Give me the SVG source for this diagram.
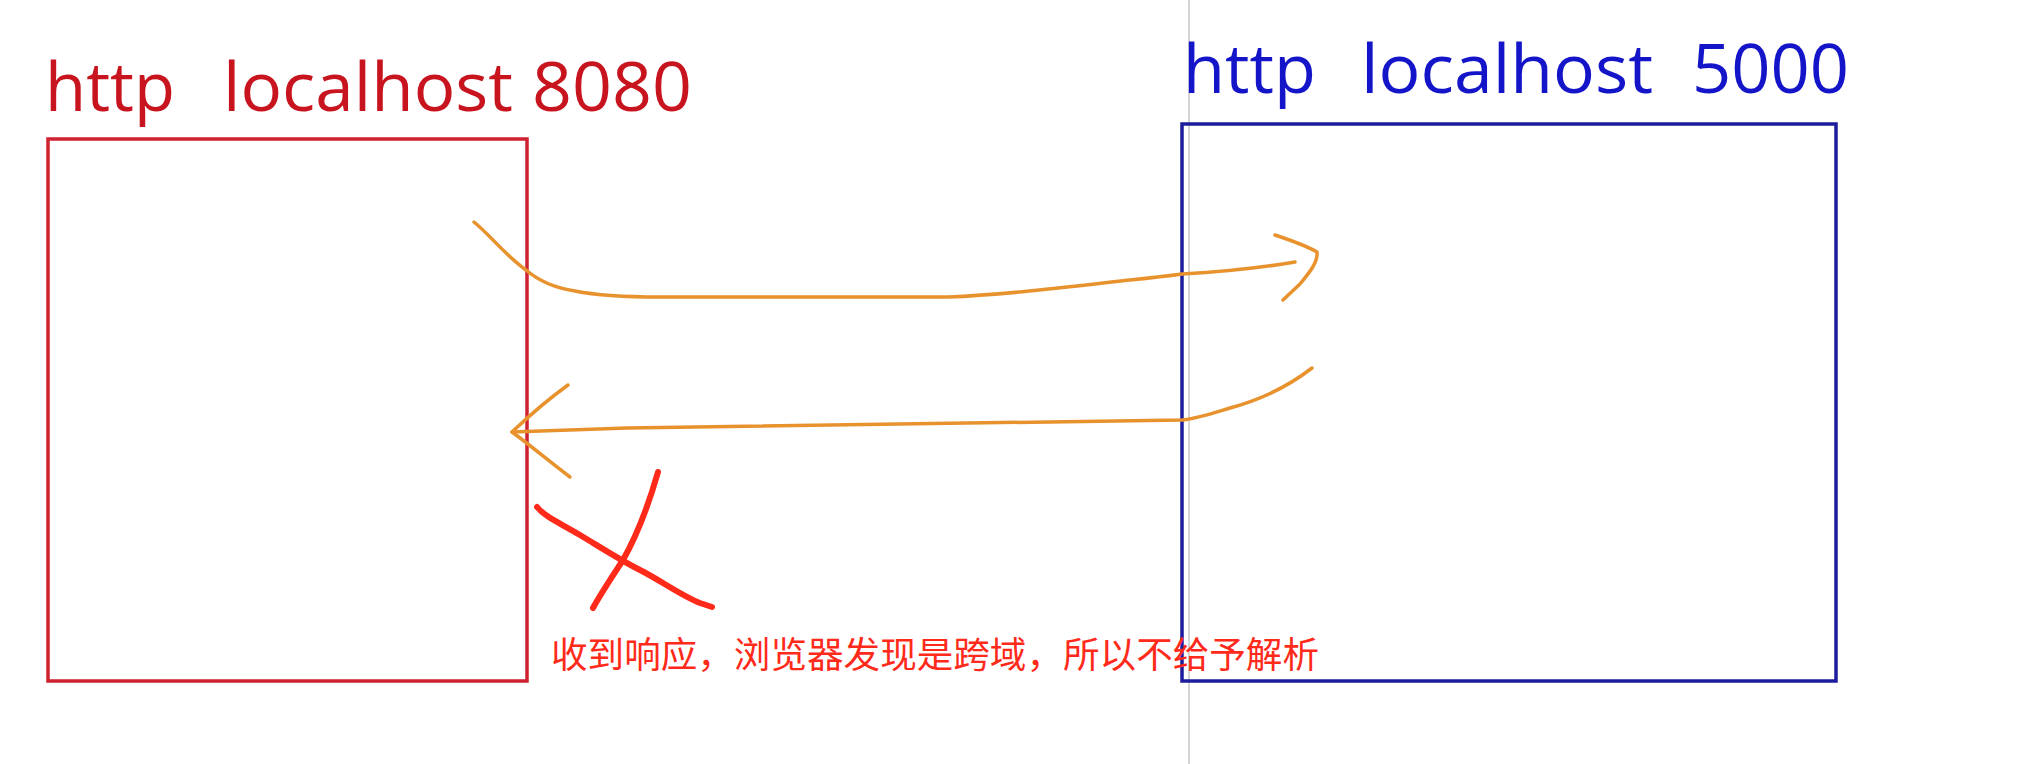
<svg xmlns="http://www.w3.org/2000/svg" width="2036" height="764" viewBox="0 0 2036 764">
<style>
.title{font-family:"Open Sans","Liberation Sans",Arial,sans-serif;font-size:68px}
.box{fill:none;stroke-width:3.5}
.arrow{fill:none;stroke:#e8922e;stroke-width:3.5;stroke-linecap:round;stroke-linejoin:round}
.mark{fill:none;stroke:#ff2a1a;stroke-width:6;stroke-linecap:round;stroke-linejoin:round}
.note{font-family:"Noto Sans CJK SC","Noto Sans",sans-serif;font-size:36.5px;fill:#ff2a1a}
</style>
<rect x="0" y="0" width="2036" height="764" fill="#ffffff"/>
<line x1="1189" y1="0" x2="1189" y2="764" stroke="#d4d4d4" stroke-width="2"/>
<g id="node-8080">
<rect class="box" x="48" y="139" width="479" height="542" stroke="#cf2230"/>
<text class="title" y="111" fill="#c8141e"><tspan x="45" textLength="130" lengthAdjust="spacingAndGlyphs">http</tspan> <tspan x="223" textLength="290" lengthAdjust="spacingAndGlyphs">localhost</tspan> <tspan x="532" textLength="160" lengthAdjust="spacingAndGlyphs">8080</tspan></text>
</g>
<g id="node-5000">
<rect class="box" x="1182" y="124" width="654" height="557" stroke="#1c1c9c"/>
<text class="title" y="93" fill="#1414c8"><tspan x="1183" textLength="133" lengthAdjust="spacingAndGlyphs">http</tspan> <tspan x="1361" textLength="292" lengthAdjust="spacingAndGlyphs">localhost</tspan> <tspan x="1692" textLength="157" lengthAdjust="spacingAndGlyphs">5000</tspan></text>
</g>
<g id="connectors">
<path class="arrow" d="M474,222 C490,235 505,255 526,270 C540,282 555,288 575,291 C600,296 630,297 660,297 L948,297 C1000,295 1060,288 1130,280 C1160,277 1175,275 1182,274 C1220,272 1260,268 1295,262"/>
<path class="arrow" d="M1275,235 C1290,240 1305,245 1317,252 C1318,262 1310,272 1300,284 L1283,300"/>
<path class="arrow" d="M1312,368 C1290,385 1260,400 1230,408 C1210,414 1195,419 1182,420 L627,428 L512,432"/>
<path class="arrow" d="M568,385 C550,398 530,415 512,432 C530,445 550,462 570,477"/>
</g>
<g id="reject-mark">
<path class="mark" d="M537,507 C545,517 560,523 580,535 C600,547 620,560 640,570 C660,580 680,595 700,603 L712,607"/>
<path class="mark" d="M658,472 C650,500 640,530 623,560 C610,580 600,595 593,608"/>
</g>
<g id="note">
<text class="note" x="551" y="668" textLength="768" lengthAdjust="spacingAndGlyphs">收到响应，浏览器发现是跨域，所以不给予解析</text>
</g>
</svg>
